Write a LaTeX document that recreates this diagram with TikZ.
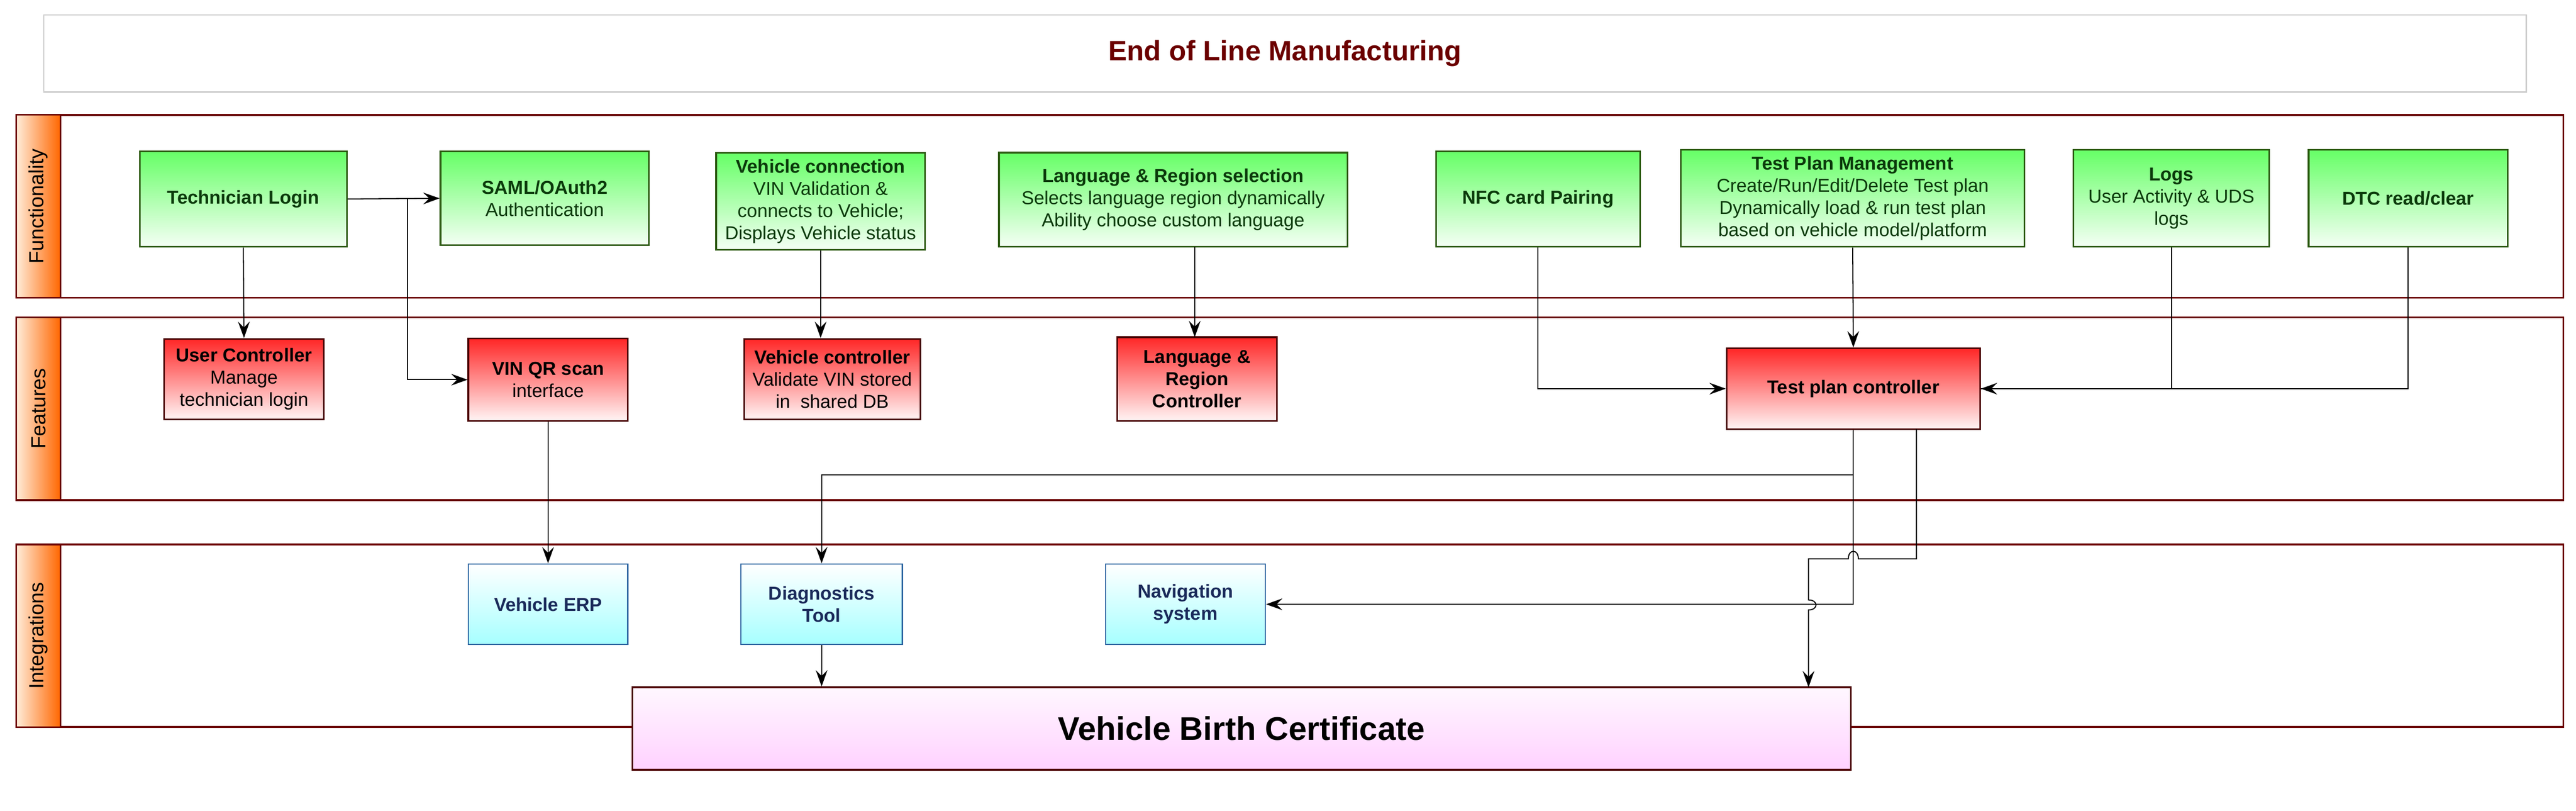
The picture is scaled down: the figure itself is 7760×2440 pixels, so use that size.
\documentclass[tikz,border=0pt]{standalone}
\usepackage{fontspec}
\setmainfont{Liberation Sans}
\usetikzlibrary{arrows.meta}
\definecolor{lanered}{HTML}{6B0000}
\definecolor{fungreen}{HTML}{2D5A12}
\definecolor{funtext}{HTML}{0B3A0B}
\definecolor{featred}{HTML}{4A0000}
\definecolor{intblue}{HTML}{2B64A0}
\definecolor{inttext}{HTML}{1A2A5A}
\begin{document}
\begin{tikzpicture}[x=0.01cm,y=-0.01cm,
      every node/.style = {font=\fontsize{16}{19}\selectfont, align=center, inner sep=0pt},
      lane/.style = {draw=lanered, line width=1.6pt},
      lanelabel/.style = {draw=lanered, line width=1.4pt, left color=orange!15, right color=orange!80!red, minimum height=1.33cm, font=\fontsize{17.5}{20}\selectfont},
      func/.style = {draw=fungreen, line width=1.4pt, top color=green!60, bottom color=green!4, text=funtext},
      feat/.style = {draw=featred, line width=1.4pt, top color=red!85, bottom color=red!4, text=black},
      integ/.style = {draw=intblue, line width=1.2pt, top color=white, bottom color=cyan!35, text=inttext},
      conn/.style = {draw, line width=0.9pt, -{Stealth[length=14pt,width=10pt,inset=5pt]}},
      plain/.style = {draw, line width=0.9pt}
      ]
      \useasboundingbox (0,0) rectangle (7760,2440);
      \node[draw=black!20, line width=1pt, minimum width=74.74cm, minimum height=2.32cm, text=lanered, font=\bfseries\fontsize{24}{28}\selectfont] (title) at (3871,161) {End of Line Manufacturing};
      % lanes
      \draw[lane] (50,346) rectangle (7722,896);
      \draw[lane] (50,955) rectangle (7722,1505);
      \draw[lane] (50,1639) rectangle (7722,2188);
      \node[lanelabel, minimum width=5.5cm, rotate=90, shading angle=90] (lfun) at (116,621) {Functionality};
      \node[lanelabel, minimum width=5.5cm, rotate=90, shading angle=90] (lfeat) at (116,1230) {Features};
      \node[lanelabel, minimum width=5.49cm, rotate=90, shading angle=90] (lint) at (116,1914) {Integrations};
      % functionality
      \node[func, minimum width=6.23cm, minimum height=2.88cm] (login) at (733,599) {\textbf{Technician Login}};
      \node[func, minimum width=6.28cm, minimum height=2.83cm] (saml) at (1641,597) {\textbf{SAML/OAuth2}\\Authentication};
      \node[func, minimum width=6.29cm, minimum height=2.92cm] (vconn) at (2472,606) {\textbf{Vehicle connection}\\VIN Validation \&\\connects to Vehicle;\\Displays Vehicle status};
      \node[func, minimum width=10.49cm, minimum height=2.83cm] (lang) at (3534,601) {\textbf{Language \& Region selection}\\Selects language region dynamically\\Ability choose custom language};
      \node[func, minimum width=6.14cm, minimum height=2.88cm] (nfc) at (4633,599) {\textbf{NFC card Pairing}};
      \node[func, minimum width=10.34cm, minimum height=2.92cm] (tpm) at (5581,597) {\textbf{Test Plan Management}\\Create/Run/Edit/Delete Test plan\\Dynamically load \& run test plan\\based on vehicle model/platform};
      \node[func, minimum width=5.89cm, minimum height=2.92cm] (logs) at (6541,597) {\textbf{Logs}\\User Activity \& UDS\\logs};
      \node[func, minimum width=5.99cm, minimum height=2.92cm] (dtc) at (7254,597) {\textbf{DTC read/clear}};
      % features
      \node[feat, minimum width=4.8cm, minimum height=2.42cm] (userc) at (735,1141) {\textbf{User Controller}\\Manage\\technician login};
      \node[feat, minimum width=4.8cm, minimum height=2.47cm] (vinqr) at (1651,1143) {\textbf{VIN QR scan}\\interface};
      \node[feat, minimum width=5.3cm, minimum height=2.42cm] (vctrl) at (2507,1141) {\textbf{Vehicle controller}\\Validate VIN stored\\in\ \ shared DB};
      \node[feat, minimum width=4.8cm, minimum height=2.52cm] (lrc) at (3606,1141) {\textbf{Language \&}\\\textbf{Region}\\\textbf{Controller}};
      \node[feat, minimum width=7.63cm, minimum height=2.43cm] (tpc) at (5583,1170) {\textbf{Test plan controller}};
      % integrations
      \node[integ, minimum width=4.8cm, minimum height=2.42cm] (erp) at (1651,1819) {\textbf{Vehicle ERP}};
      \node[integ, minimum width=4.86cm, minimum height=2.42cm] (diag) at (2475,1819) {\textbf{Diagnostics}\\\textbf{Tool}};
      \node[integ, minimum width=4.81cm, minimum height=2.42cm] (nav) at (3571,1819) {\textbf{Navigation}\\\textbf{system}};
      \node[draw=black!70!red, line width=1.4pt, top color=magenta!3, bottom color=magenta!18, minimum width=36.68cm, minimum height=2.48cm, font=\bfseries\fontsize{28}{32}\selectfont] (vbc) at (3740,2193) {Vehicle Birth Certificate};
      % connectors
      \coordinate (split) at (1228,599);
      \draw[conn] (login.south) -- (userc.north);
      \draw[conn] (login.east) -- (saml.west);
      \draw[conn] (split) |- (vinqr.west);
      \draw[conn] (vconn.south) -- (vconn.south |- vctrl.north);
      \draw[conn] (3599,743) -- (3599,1015);
      \draw[conn] (vinqr.south) -- (vinqr.south |- erp.north);
      \draw[conn] (nfc.south) |- (tpc.west);
      \draw[conn] (tpm.south) -- (tpc.north);
      \draw[conn] (logs.south) |- (tpc.east);
      \draw[plain] (dtc.south) |- (tpc.east);
      \draw[conn] (tpc.south) |- (2475,1430) -- (diag.north);
      \draw[conn] (5583,1430) |- (nav.east);
      \draw[conn] (5773,1292) |- (5598,1682) .. controls (5598,1652) and (5568,1652) .. (5568,1682) -- (5448,1682) -- (5448,1806) .. controls (5478,1806) and (5478,1836) .. (5448,1836) -- (5448,2069);
      \draw[conn] (diag.south) -- (diag.south |- vbc.north);
\end{tikzpicture}
\end{document}
